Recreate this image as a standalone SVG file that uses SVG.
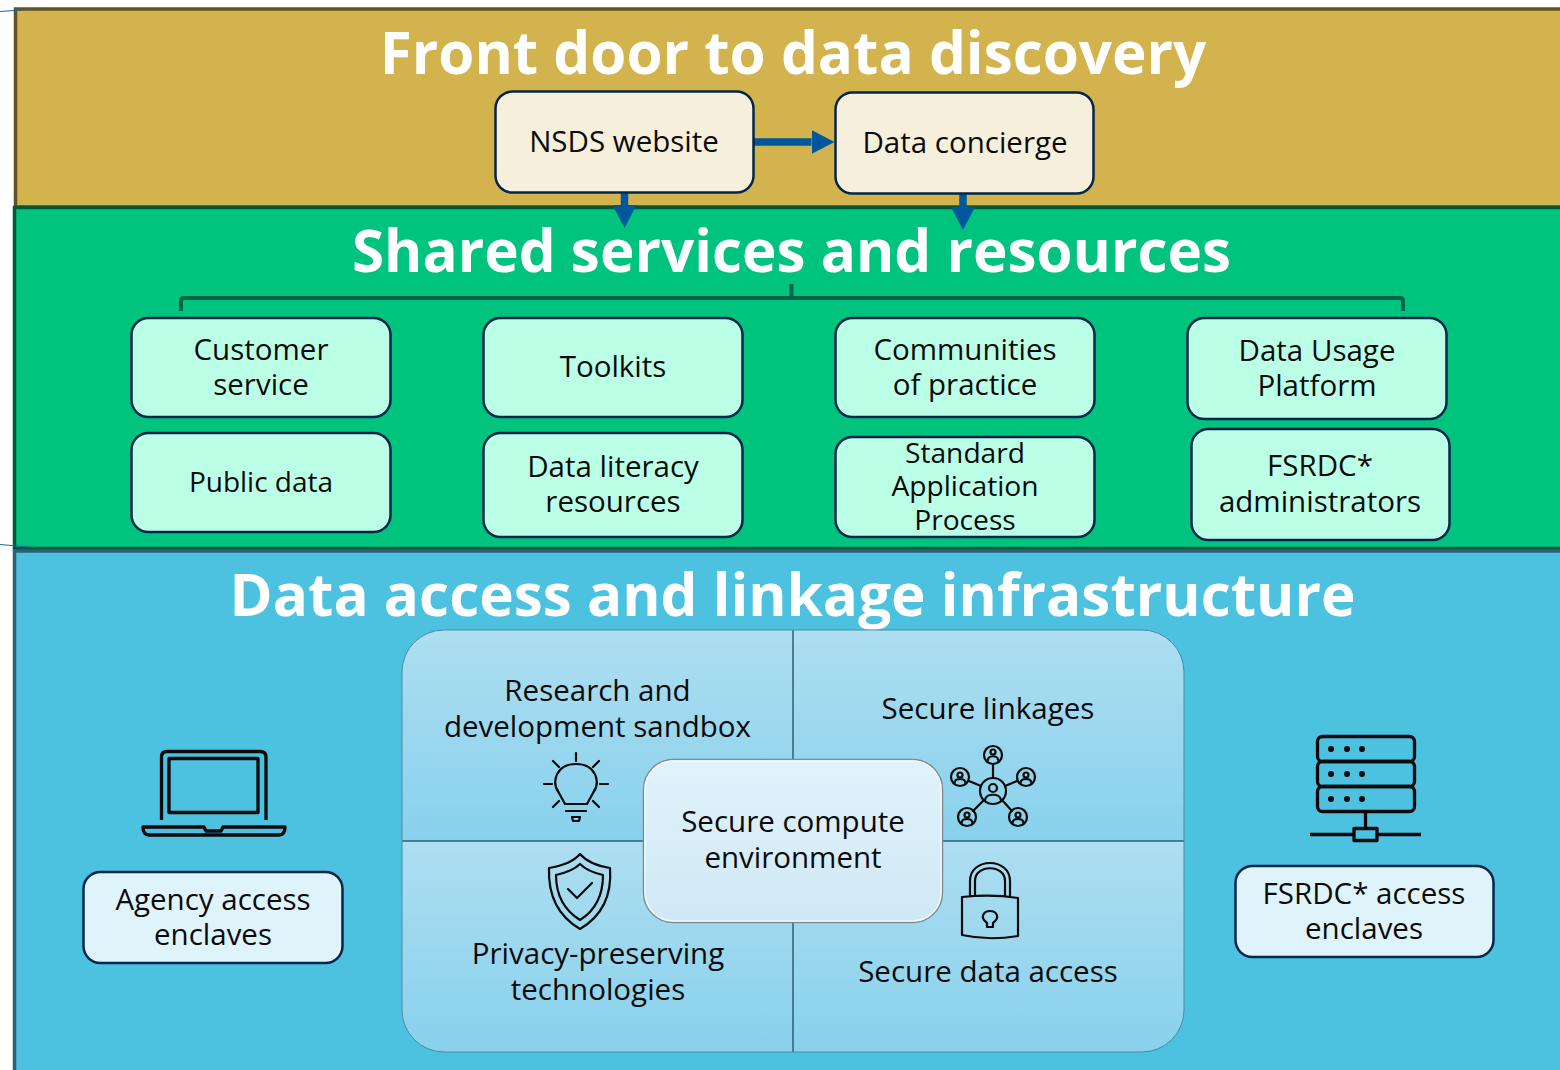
<svg xmlns="http://www.w3.org/2000/svg" width="1560" height="1070" viewBox="0 0 1560 1070">
<style>
text{font-family:"Open Sans","Noto Sans","Liberation Sans",sans-serif;fill:#0b0b0b;font-size:29.500px;text-anchor:middle}
.title{fill:#fff;font-weight:700;font-size:58.400px}
.box{stroke:#04264a;stroke-width:2.500}
.cream{fill:#f6efdc}
.mint{fill:#bcffe7}
.pale{fill:#dff3fa}
.ic{fill:none;stroke:#0a0a0a;stroke-width:2.200;stroke-linecap:round;stroke-linejoin:round}
.ic2{fill:none;stroke:#0a0a0a;stroke-width:3.300;stroke-linejoin:round}
.con{fill:none;stroke:#01579b;stroke-width:7.500}
.br{fill:none;stroke:#00664a;stroke-width:4}
</style>
<defs>
<marker id="arrow" markerUnits="userSpaceOnUse" markerWidth="23" markerHeight="24" refX="0" refY="12" orient="auto"><path d="M0 0L23 12L0 24Z" fill="#01579b"/></marker>
<linearGradient id="q" x1="0" y1="0" x2="0" y2="1"><stop offset="0" stop-color="#aedef1"/><stop offset="1" stop-color="#88d1ec"/></linearGradient>
<linearGradient id="c" x1="0" y1="0" x2="0" y2="1"><stop offset="0" stop-color="#e1f3fa"/><stop offset="1" stop-color="#cfe8f5"/></linearGradient>
<clipPath id="pc"><rect x="402" y="630" width="782" height="422" rx="42"/></clipPath>
</defs>
<g id="band-front"><rect x="15.500" y="9" width="1560" height="198" fill="#d2b34e" stroke="#645126" stroke-width="3.500"/>
<text class="title" x="793" y="74">Front door to data discovery</text></g>
<g id="band-shared"><rect x="14.500" y="207.500" width="1560" height="341" fill="#00c37d" stroke="#00573a" stroke-width="3.500"/>
<text class="title" x="791.500" y="271.500">Shared services and resources</text></g>
<g id="band-access"><rect x="14.500" y="551" width="1560" height="540" fill="#4cc1e0" stroke="#2d5f75" stroke-width="3.500"/>
<text class="title" x="792.500" y="616">Data access and linkage infrastructure</text></g>
<path d="M0 11.500L34 9M0 544.500L34 547.500" fill="none" stroke="#1a6aa0" stroke-width="1"/>
<g id="connectors">
<path class="con" d="M754 142H811.500" marker-end="url(#arrow)"/>
<path class="con" d="M624.500 192V205" marker-end="url(#arrow)"/>
<path class="con" d="M963 194V207" marker-end="url(#arrow)"/>
<path class="br" d="M181 311V301Q181 298 184 298H1400Q1403 298 1403 301V311M791.500 284V298"/>
</g>
<g id="node-nsds"><rect class="box cream" x="495.500" y="91.500" width="258" height="101" rx="17"/><text x="624" y="152">NSDS website</text></g>
<g id="node-concierge"><rect class="box cream" x="835.500" y="92.500" width="258" height="101" rx="17"/><text x="965" y="153">Data concierge</text></g>
<g id="node-customer"><rect class="box mint" x="131.500" y="318" width="259" height="99" rx="17"/><text x="261" y="360">Customer<tspan x="261" dy="35">service</tspan></text></g>
<g id="node-toolkits"><rect class="box mint" x="483.500" y="318" width="259" height="99" rx="17"/><text x="613" y="377">Toolkits</text></g>
<g id="node-communities"><rect class="box mint" x="835.500" y="318" width="259" height="99" rx="17"/><text x="965" y="360">Communities<tspan x="965" dy="35">of practice</tspan></text></g>
<g id="node-dup"><rect class="box mint" x="1187.500" y="318" width="259" height="101" rx="17"/><text x="1317" y="361">Data Usage<tspan x="1317" dy="35">Platform</tspan></text></g>
<g id="node-public"><rect class="box mint" x="131.500" y="433" width="259" height="99" rx="17"/><text x="261" y="492" style="font-size:28px">Public data</text></g>
<g id="node-literacy"><rect class="box mint" x="483.500" y="433" width="259" height="104" rx="17"/><text x="613" y="477">Data literacy<tspan x="613" dy="35">resources</tspan></text></g>
<g id="node-sap"><rect class="box mint" x="835.500" y="437" width="259" height="100" rx="17"/><text x="965" y="463" style="font-size:28.200px">Standard<tspan x="965" dy="33">Application</tspan><tspan x="965" dy="34">Process</tspan></text></g>
<g id="node-fsrdc-admin"><rect class="box mint" x="1191.500" y="429" width="258" height="111" rx="17"/><text x="1320" y="476">FSRDC*<tspan x="1320" dy="36">administrators</tspan></text></g>
<g id="panel">
<g clip-path="url(#pc)"><rect x="402" y="630" width="782" height="211" fill="url(#q)"/><rect x="402" y="841" width="782" height="211" fill="url(#q)"/></g>
<path d="M793 630V1052M402 841H1184" stroke="#2d5f75" stroke-width="1.500"/>
<rect x="402" y="630" width="782" height="422" rx="42" fill="none" stroke="#4f8aa3" stroke-width="1"/>
</g>
<g id="node-sandbox"><text x="597.500" y="701">Research and<tspan x="597.500" dy="36">development sandbox</tspan></text>
<g class="ic"><path d="M576 753V761M553 761L559 767M599 761L593 767M544 784H552M600 784H608M553 807L559 801M599 807L593 801M565 804H587L593 793C601 782 596 764 576 764C556 764 551 782 559 793ZM566 811H586M572 817H580L579 821H573Z"/></g></g>
<g id="node-linkages"><text x="988" y="719">Secure linkages</text>
<g class="ic"><circle cx="993" cy="755" r="9"/><circle cx="993" cy="791" r="13"/><circle cx="960" cy="777" r="9"/><circle cx="1026" cy="777" r="9"/><circle cx="967" cy="817" r="9"/><circle cx="1018" cy="817" r="9"/><path d="M993 764V778M969 781L981 786M1017 781L1005 786M973 811L984 800M1012 811L1002 800"/><circle cx="993" cy="788" r="4"/><path d="M985 800C986 793 1000 793 1001 800M988 760C988 755 998 755 998 760"/><circle cx="993" cy="752" r="2.500"/><circle cx="960" cy="775" r="2.500"/><circle cx="1026" cy="775" r="2.500"/><circle cx="967" cy="815" r="2.500"/><circle cx="1018" cy="815" r="2.500"/><path d="M955 782C955 778 965 778 965 782M1021 782C1021 778 1031 778 1031 782M962 822C962 818 972 818 972 822M1013 822C1013 818 1023 818 1023 822"/></g></g>
<g id="node-privacy"><text x="598" y="964">Privacy-preserving<tspan x="598" dy="36">technologies</tspan></text>
<g class="ic"><path d="M580 854C574 861 561 866 549 868C548 895 558 916 580 929C602 916 612 895 610 868C598 866 586 861 580 854Z"/><path d="M580 864C574 870 565 873 556 875C556 895 564 910 580 920C596 910 603 895 603 875C594 873 586 870 580 864Z"/><path d="M568 889L577 898L592 883"/></g></g>
<g id="node-data-access"><text x="988" y="982">Secure data access</text>
<g class="ic"><path d="M970 896V881C970 857 1010 857 1010 881V896M975 896V881C975 864 1005 864 1005 881V896M962 897C980 895 1000 895 1018 898V936C1000 939 980 939 962 935Z"/><path d="M987 927V923C979 917 984 911 990 911C996 911 1001 917 993 923V927Z"/></g></g>
<g id="node-compute"><rect x="643.500" y="759.500" width="299" height="163" rx="30" fill="url(#c)" stroke="#808a90" stroke-width="1.500"/><rect x="645" y="761" width="296" height="160" rx="28.500" fill="none" stroke="#eef8fc" stroke-width="1.500"/><text x="793" y="832">Secure compute<tspan x="793" dy="36">environment</tspan></text></g>
<g id="node-agency">
<g class="ic2"><path d="M161.500 820V757Q161.500 751.500 167 751.500H260Q266 751.500 266 757V820"/><rect x="169" y="758.500" width="89" height="54"/><path d="M143 827H204L206 831H221L223 827H285C285 832 283 835 279 835H149C145 835 143 832 143 827Z"/></g>
<rect class="box pale" x="83.500" y="872" width="259" height="91" rx="17"/><text x="213" y="910">Agency access<tspan x="213" dy="35">enclaves</tspan></text></g>
<g id="node-fsrdc-access">
<g class="ic2"><rect x="1317.500" y="736.500" width="97" height="25" rx="5"/><rect x="1317.500" y="761.500" width="97" height="25" rx="5"/><rect x="1317.500" y="786.500" width="97" height="25" rx="5"/><path d="M1365.500 811.500V828M1310 834.500H1354M1377 834.500H1421"/><rect x="1354" y="828.500" width="23" height="12"/></g>
<g fill="#0a0a0a"><circle cx="1331" cy="749" r="3"/><circle cx="1347" cy="749" r="3"/><circle cx="1362" cy="749" r="3"/><circle cx="1331" cy="774" r="3"/><circle cx="1347" cy="774" r="3"/><circle cx="1362" cy="774" r="3"/><circle cx="1331" cy="799" r="3"/><circle cx="1347" cy="799" r="3"/><circle cx="1362" cy="799" r="3"/></g>
<rect class="box pale" x="1235.500" y="866" width="258" height="91" rx="17"/><text x="1364" y="904">FSRDC* access<tspan x="1364" dy="35">enclaves</tspan></text></g>
</svg>
